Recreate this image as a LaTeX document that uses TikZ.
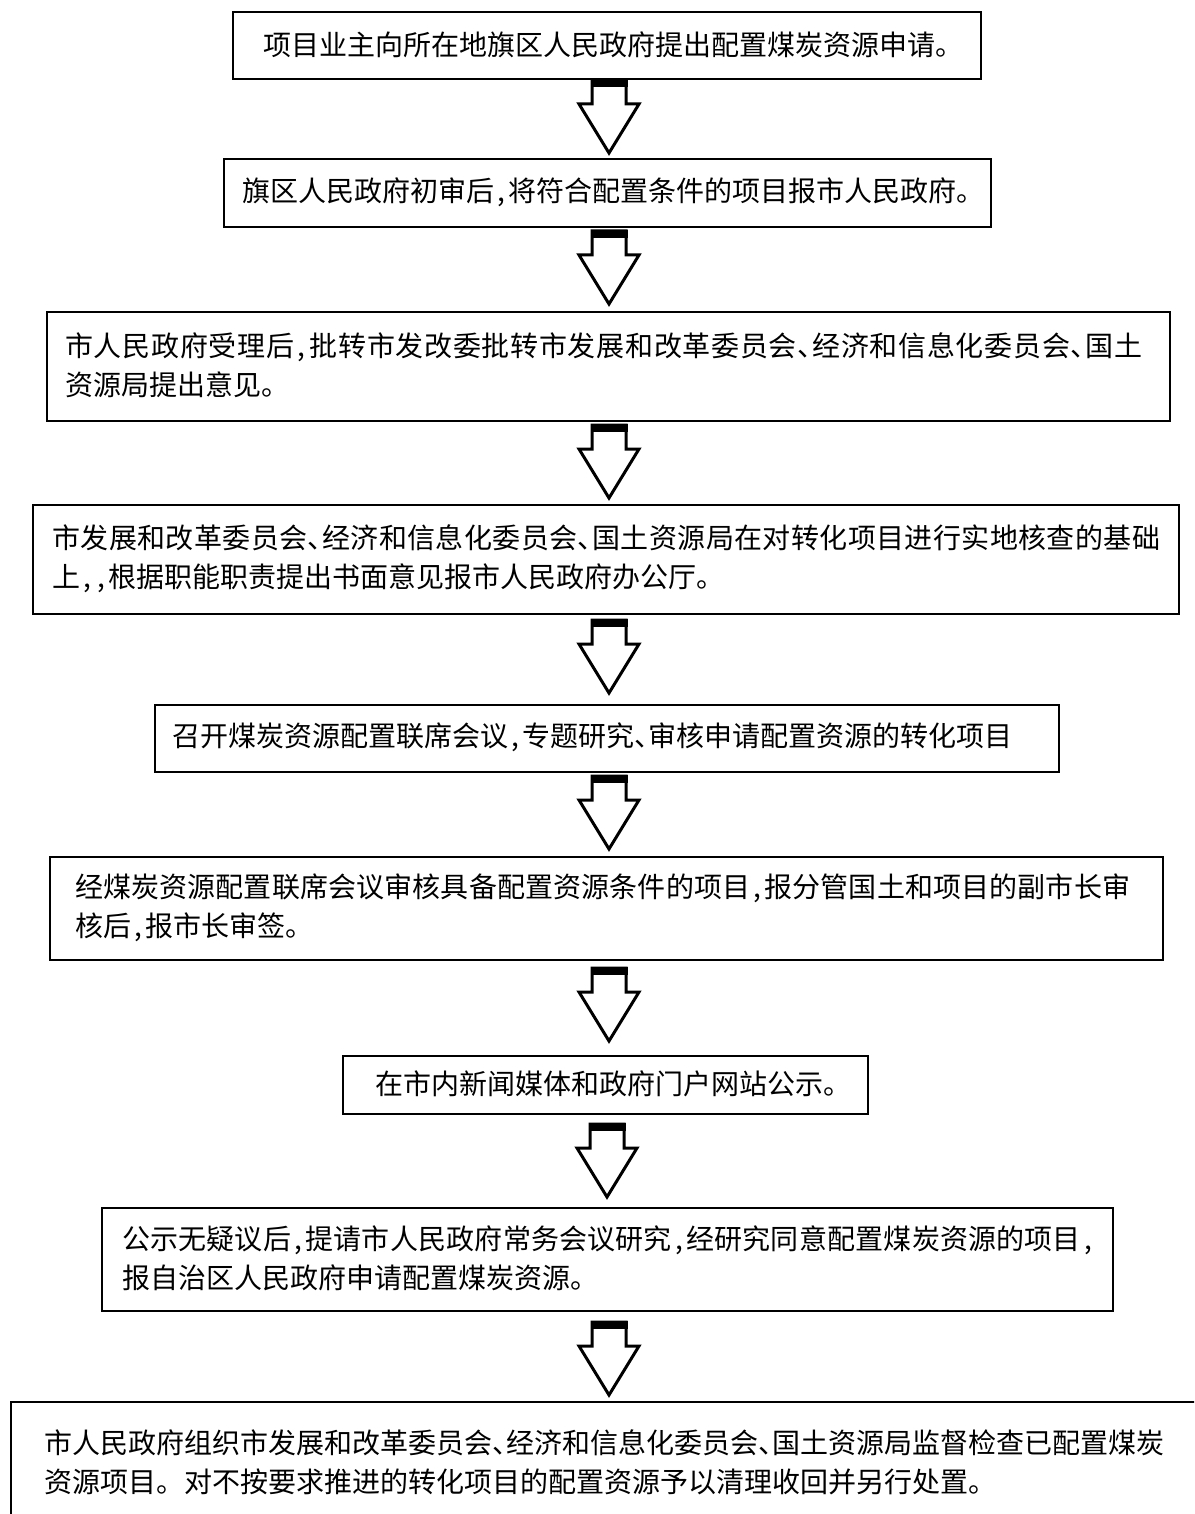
\documentclass[tikz,border=0pt]{standalone}
\usepackage{fontspec}
\setmainfont{Noto Sans CJK SC}
\makeatletter
\def\sprd#1#2{#1\ifx\relax#2\expandafter\@gobble\else\hskip0pt plus 1fil\expandafter\@firstofone\fi{\sprd#2}}
\newcommand\spreadto[2]{\hbox to #1{\sprd#2\relax}}
\makeatother
\newcommand\hc{\hbox to 14pt{\hskip3pt,\hss}}
\newcommand\dn{\hbox to 14pt{、\hss}}
\begin{document}
\begin{tikzpicture}[x=1pt,y=-1pt]
\tikzset{
  box/.style={draw, line width=1.6pt, rectangle, anchor=north west, inner sep=0pt},
  txt/.style={anchor=west, align=left, inner sep=0pt, font=\fontsize{28}{39}\selectfont},
  blockarr/.pic={
    \draw[line width=3pt, line join=miter, fill=white]
      (-17,0) -- (-17,24) -- (-30,24) -- (0,73) -- (30,24) -- (17,24) -- (17,0) -- cycle;
    \fill (-18.5,-1) rectangle (18.5,7);
  }
}
\useasboundingbox (0,0) rectangle (1194,1514);
\clip (0,0) rectangle (1194,1514);

% boxes
\node[box, minimum width=748pt, minimum height=67pt] (b1) at (232,11) {};
\node[box, minimum width=767pt, minimum height=68pt] (b2) at (223,158) {};
\node[box, minimum width=1123pt, minimum height=109pt] (b3) at (46,311) {};
\node[box, minimum width=1146pt, minimum height=109pt] (b4) at (32,504) {};
\node[box, minimum width=904pt, minimum height=67pt] (b5) at (154,704) {};
\node[box, minimum width=1113pt, minimum height=103pt] (b6) at (49,856) {};
\node[box, minimum width=525pt, minimum height=58pt] (b7) at (342,1055) {};
\node[box, minimum width=1011pt, minimum height=103pt] (b8) at (101,1207) {};
\node[box, minimum width=1220pt, minimum height=150pt] (b9) at (10,1401) {};

% texts
\node[txt] (t1) at (263,44.5) {项目业主向所在地旗区人民政府提出配置煤炭资源申请。};
\node[txt] (t2) at (242,192) {旗区人民政府初审后\hc 将符合配置条件的项目报市人民政府。};
\node[txt] (t3) at (65,365.5) {\spreadto{1077pt}{市人民政府受理后\hc 批转市发改委批转市发展和改革委员会\dn 经济和信息化委员会\dn 国土}\\资源局提出意见。};
\node[txt] (t4) at (52,558.5) {\spreadto{1108pt}{市发展和改革委员会\dn 经济和信息化委员会\dn 国土资源局在对转化项目进行实地核查的基础}\\上\hc\hc 根据职能职责提出书面意见报市人民政府办公厅。};
\node[txt] (t5) at (172,737.5) {召开煤炭资源配置联席会议\hc 专题研究\dn 审核申请配置资源的转化项目};
\node[txt] (t6) at (75,907.5) {\spreadto{1055pt}{经煤炭资源配置联席会议审核具备配置资源条件的项目\hc 报分管国土和项目的副市长审}\\核后\hc 报市长审签。};
\node[txt] (t7) at (375,1084) {在市内新闻媒体和政府门户网站公示。};
\node[txt] (t8) at (122,1258.5) {\spreadto{973pt}{公示无疑议后\hc 提请市人民政府常务会议研究\hc 经研究同意配置煤炭资源的项目\hc}\\报自治区人民政府申请配置煤炭资源。};
\node[txt] (t9) at (44,1462) {\spreadto{1120pt}{市人民政府组织市发展和改革委员会\dn 经济和信息化委员会\dn 国土资源局监督检查已配置煤炭}\\资源项目。对不按要求推进的转化项目的配置资源予以清理收回并另行处置。};

% block arrows
\pic at (609,80) {blockarr};
\pic at (609,231) {blockarr};
\pic at (609,425) {blockarr};
\pic at (609,620) {blockarr};
\pic at (609,776) {blockarr};
\pic at (609,968) {blockarr};
\pic at (607,1124) {blockarr};
\pic at (609,1322) {blockarr};
\end{tikzpicture}
\end{document}
